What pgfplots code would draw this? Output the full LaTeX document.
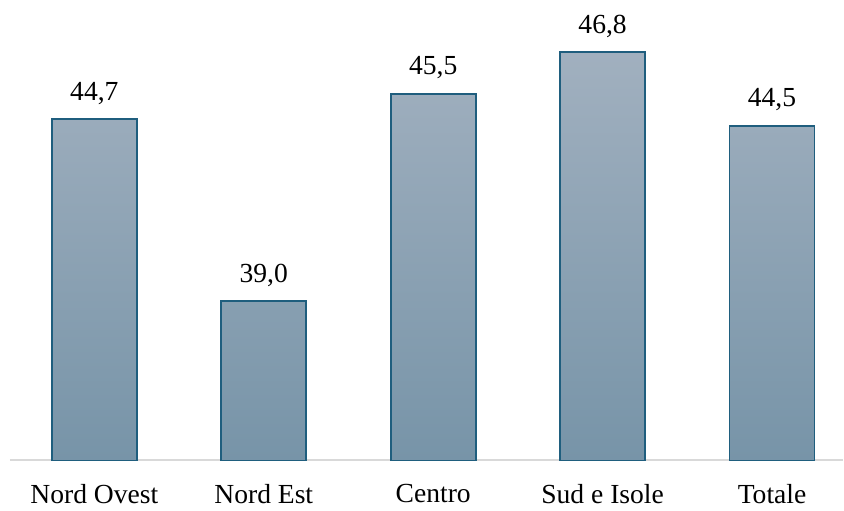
\documentclass[border=0pt]{standalone}
\usepackage{fontspec}
\setmainfont{Liberation Serif}
\usepackage{pgfplots}
\pgfplotsset{compat=1.18}

\definecolor{bartop}{HTML}{A1B0BF}
\definecolor{barbot}{HTML}{7794A8}
\definecolor{baredge}{HTML}{1F5E7E}
\definecolor{baseline}{HTML}{D9D9D9}

\begin{document}
\begin{tikzpicture}
    \begin{axis}[
            at={(0,0)}, anchor=south west,
            scale only axis,
            width=417pt, height=230.5pt,
            xmin=-0.498, xmax=4.419,
            ymin=34, ymax=48.44,
            hide y axis,
            axis x line*=bottom,
            x axis line style={draw=baseline, line width=1pt},
            xtick=data,
            xticklabels={Nord Ovest, Nord Est, Centro, Sud e Isole, Totale},
            major tick length=0pt,
            xticklabel style={font=\fontsize{13.8}{16}\selectfont, yshift=-8.5pt},
            /pgf/number format/assume math mode=true,
            clip=false,
            nodes near coords,
            nodes near coords style={font=\fontsize{13.8}{16}\selectfont, yshift=3.5pt,
                /pgf/number format/fixed, /pgf/number format/fixed zerofill,
                /pgf/number format/precision=1, /pgf/number format/use comma},
        ]
        \addplot[ybar, bar width=42.5pt, draw=baredge, line width=0.9pt,
                 top color=bartop, bottom color=barbot]
            coordinates {(0,44.7) (1,39.0) (2,45.5) (3,46.8) (4,44.5)};
    \end{axis}
    \path (-5pt,-23.5pt) rectangle (417pt,230.5pt);
\end{tikzpicture}
\end{document}
